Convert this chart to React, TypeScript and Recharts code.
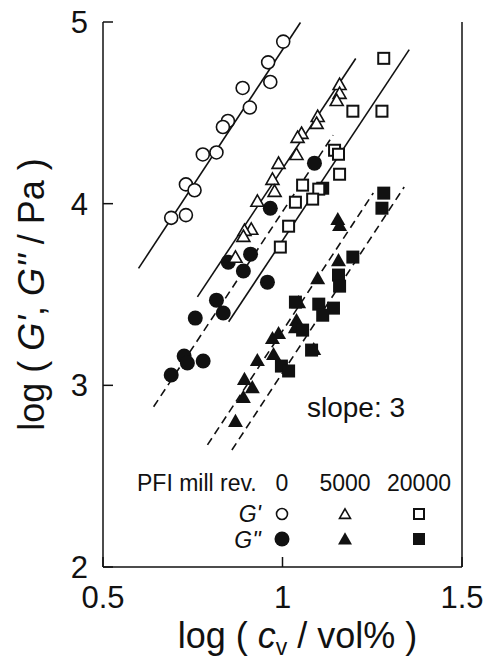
import React from "react";
import {
  ScatterChart,
  Scatter,
  XAxis,
  YAxis,
  ReferenceLine,
} from "recharts";

/* ---------- Data (log cv, log G) ---------- */

// G', 0 rev (open circles)
const gp0: [number, number][] = [
  [1.002, 4.892], [0.96, 4.778], [0.966, 4.67], [0.889, 4.637],
  [0.909, 4.529], [0.848, 4.455], [0.834, 4.422], [0.816, 4.282],
  [0.778, 4.271], [0.731, 4.106], [0.755, 4.074], [0.69, 3.922],
  [0.731, 3.937],
];

// G', 5000 rev (open triangles)
const gp5000: [number, number][] = [
  [1.159, 4.657], [1.159, 4.608], [1.151, 4.569], [1.098, 4.481],
  [1.095, 4.443], [1.053, 4.388], [1.042, 4.366], [1.039, 4.272],
  [0.989, 4.223], [0.972, 4.135], [0.978, 4.069], [0.93, 4.014],
  [0.913, 3.86], [0.894, 3.854], [0.891, 3.821], [0.869, 3.706],
];

// G', 20000 rev (open squares)
const gp20000: [number, number][] = [
  [1.282, 4.8], [1.196, 4.509], [1.277, 4.509], [1.145, 4.294],
  [1.156, 4.272], [1.159, 4.162], [1.056, 4.102], [1.101, 4.08],
  [1.084, 4.025], [1.036, 4.008], [1.017, 3.876], [0.994, 3.761],
];

// G'', 0 rev (filled circles)
const gpp0: [number, number][] = [
  [1.089, 4.223], [0.966, 3.975], [0.911, 3.722], [0.849, 3.678],
  [0.891, 3.629], [0.958, 3.568], [0.816, 3.469], [0.835, 3.398],
  [0.757, 3.37], [0.726, 3.161], [0.735, 3.123], [0.779, 3.134],
  [0.69, 3.057],
];

// G'', 5000 rev (filled triangles)
const gpp5000: [number, number][] = [
  [1.154, 3.915], [1.159, 3.882], [1.156, 3.689], [1.098, 3.59],
  [1.045, 3.458], [1.039, 3.359], [1.036, 3.32], [1.087, 3.2],
  [0.989, 3.288], [0.972, 3.26], [0.93, 3.139], [0.975, 3.172],
  [0.894, 3.035], [0.916, 2.99], [0.891, 2.936], [0.869, 2.804],
];

// G'', 20000 rev (filled squares)
const gpp20000: [number, number][] = [
  [1.282, 4.058], [1.277, 3.975], [1.112, 4.085], [1.196, 3.706],
  [1.156, 3.607], [1.159, 3.546], [1.036, 3.458], [1.101, 3.447],
  [1.142, 3.425], [1.112, 3.386], [1.056, 3.304], [1.081, 3.194],
  [0.997, 3.106], [1.017, 3.079],
];

// slope-3 guide lines (endpoints)
const fitGp0: [number, number][] = [[0.599, 3.644], [1.05, 4.997]];
const fitGp5000: [number, number][] = [[0.763, 3.487], [1.204, 4.799]];
const fitGp20000: [number, number][] = [[0.85, 3.35], [1.353, 4.848]];
const fitGpp0: [number, number][] = [[0.641, 2.882], [1.141, 4.377]];
const fitGpp5000: [number, number][] = [[0.791, 2.672], [1.253, 4.059]];
const fitGpp20000: [number, number][] = [[0.859, 2.644], [1.339, 4.092]];

const xTicks = [0.5, 1, 1.5];
const yTicks = [2, 3, 4, 5];
const revLabels = ["0", "5000", "20000"];

/* ---------- Styles ---------- */

const FONT = "'Liberation Sans', Arial, Helvetica, sans-serif";
const INK = "#111";
const W = 492;
const H = 662;
const PLOT = { left: 103, top: 22, right: 462, bottom: 567 };

const toPts = (arr: [number, number][]) => arr.map(([x, y]) => ({ x, y }));

/* ---------- Marker shapes ---------- */

const openCircle = (p: any) => (
  <circle cx={p.cx} cy={p.cy} r={6.5} fill="#fff" stroke={INK} strokeWidth={1.6} />
);
const fillCircle = (p: any) => <circle cx={p.cx} cy={p.cy} r={7.5} fill={INK} />;
const triPts = (cx: number, cy: number, s: number) =>
  `${cx},${cy - s * 0.95} ${cx + s},${cy + s * 0.8} ${cx - s},${cy + s * 0.8}`;
const openTri = (p: any) => (
  <polygon points={triPts(p.cx, p.cy, 6.5)} fill="#fff" stroke={INK} strokeWidth={1.6} strokeLinejoin="miter" />
);
const fillTri = (p: any) => <polygon points={triPts(p.cx, p.cy, 7.5)} fill={INK} />;
const openSq = (p: any) => (
  <rect x={p.cx - 5.5} y={p.cy - 5.5} width={11} height={11} fill="#fff" stroke={INK} strokeWidth={2} />
);
const fillSq = (p: any) => <rect x={p.cx - 6.5} y={p.cy - 6.5} width={13} height={13} fill={INK} />;

const fitLine = (pts: [number, number][], dashed: boolean, key: string) => (
  <ReferenceLine
    key={key}
    segment={toPts(pts)}
    stroke={INK}
    strokeWidth={1.6}
    strokeDasharray={dashed ? "8 5" : undefined}
    ifOverflow="visible"
  />
);

/* ---------- Component ---------- */

export default function App() {
  const cx = (PLOT.left + PLOT.right) / 2;
  const cy = (PLOT.top + PLOT.bottom) / 2;
  const cols = [282, 345, 419];

  return (
    <div style={{ position: "absolute", left: 0, top: 0, width: W, height: H, background: "#fff" }}>
      <ScatterChart width={W} height={H} margin={{ top: PLOT.top, right: 0, bottom: 0, left: 0 }}>
        <XAxis
          type="number"
          dataKey="x"
          domain={[0.5, 1.5]}
          ticks={xTicks}
          allowDataOverflow
          height={H - PLOT.bottom}
          tickSize={-10}
          tickMargin={29}
          axisLine={{ stroke: INK, strokeWidth: 1.5 }}
          tickLine={{ stroke: INK, strokeWidth: 1.5 }}
          tick={{ fill: INK, fontSize: 31, fontFamily: FONT }}
        />
        <XAxis
          xAxisId="top"
          orientation="top"
          type="number"
          dataKey="x"
          domain={[0.5, 1.5]}
          ticks={xTicks}
          height={0}
          tickSize={-10}
          axisLine={{ stroke: INK, strokeWidth: 1.5 }}
          tickLine={{ stroke: INK, strokeWidth: 1.5 }}
          tick={false}
        />
        <YAxis
          type="number"
          dataKey="y"
          domain={[2, 5]}
          ticks={yTicks}
          allowDataOverflow
          width={PLOT.left}
          tickSize={-10}
          tickMargin={25}
          axisLine={{ stroke: INK, strokeWidth: 1.5 }}
          tickLine={{ stroke: INK, strokeWidth: 1.5 }}
          tick={{ fill: INK, fontSize: 31, fontFamily: FONT }}
        />
        <YAxis
          yAxisId="right"
          orientation="right"
          type="number"
          dataKey="y"
          domain={[2, 5]}
          ticks={yTicks}
          width={W - PLOT.right}
          tickSize={-10}
          axisLine={{ stroke: INK, strokeWidth: 1.5 }}
          tickLine={{ stroke: INK, strokeWidth: 1.5 }}
          tick={false}
        />

        {fitLine(fitGp0, false, "l1")}
        {fitLine(fitGp5000, false, "l2")}
        {fitLine(fitGp20000, false, "l3")}
        {fitLine(fitGpp0, true, "l4")}
        {fitLine(fitGpp5000, true, "l5")}
        {fitLine(fitGpp20000, true, "l6")}

        <Scatter data={toPts(gpp0)} shape={fillCircle} isAnimationActive={false} />
        <Scatter data={toPts(gpp5000)} shape={fillTri} isAnimationActive={false} />
        <Scatter data={toPts(gpp20000)} shape={fillSq} isAnimationActive={false} />
        <Scatter data={toPts(gp0)} shape={openCircle} isAnimationActive={false} />
        <Scatter data={toPts(gp5000)} shape={openTri} isAnimationActive={false} />
        <Scatter data={toPts(gp20000)} shape={openSq} isAnimationActive={false} />

        {/* axis titles */}
        <text x={cx + 15} y={648} textAnchor="middle" fontFamily={FONT} fontSize={36} fill={INK}>
          log (<tspan fontStyle="italic"> c</tspan>
          <tspan fontSize={23} dy={7}>v</tspan>
          <tspan dy={-7}> / vol% )</tspan>
        </text>
        <text
          x={44}
          y={cy}
          transform={`rotate(-90 44 ${cy})`}
          textAnchor="middle"
          fontFamily={FONT}
          fontSize={36}
          fill={INK}
        >
          log ( <tspan fontStyle="italic">G'</tspan>, <tspan fontStyle="italic">G''</tspan> / Pa )
        </text>

        {/* slope annotation */}
        <text x={307} y={417} fontFamily={FONT} fontSize={28} fill={INK}>
          slope: 3
        </text>

        {/* legend table */}
        <g fontFamily={FONT} fontSize={23} fill={INK}>
          <text x={137} y={491}>PFI mill rev.</text>
          {revLabels.map((t, i) => (
            <text key={t} x={cols[i]} y={491} textAnchor="middle">{t}</text>
          ))}
          <text x={261} y={522} textAnchor="end" fontStyle="italic">G'</text>
          <text x={261} y={548} textAnchor="end" fontStyle="italic">G''</text>
        </g>
        <g>
          <circle cx={cols[0]} cy={514} r={5.5} fill="#fff" stroke={INK} strokeWidth={1.6} />
          <polygon points={triPts(cols[1], 514, 5.5)} fill="#fff" stroke={INK} strokeWidth={1.6} />
          <rect x={cols[2] - 5} y={509} width={10} height={10} fill="#fff" stroke={INK} strokeWidth={2} />
          <circle cx={cols[0]} cy={539} r={7.5} fill={INK} />
          <polygon points={triPts(cols[1], 539, 7)} fill={INK} />
          <rect x={cols[2] - 6} y={533} width={12} height={12} fill={INK} />
        </g>
      </ScatterChart>
    </div>
  );
}
